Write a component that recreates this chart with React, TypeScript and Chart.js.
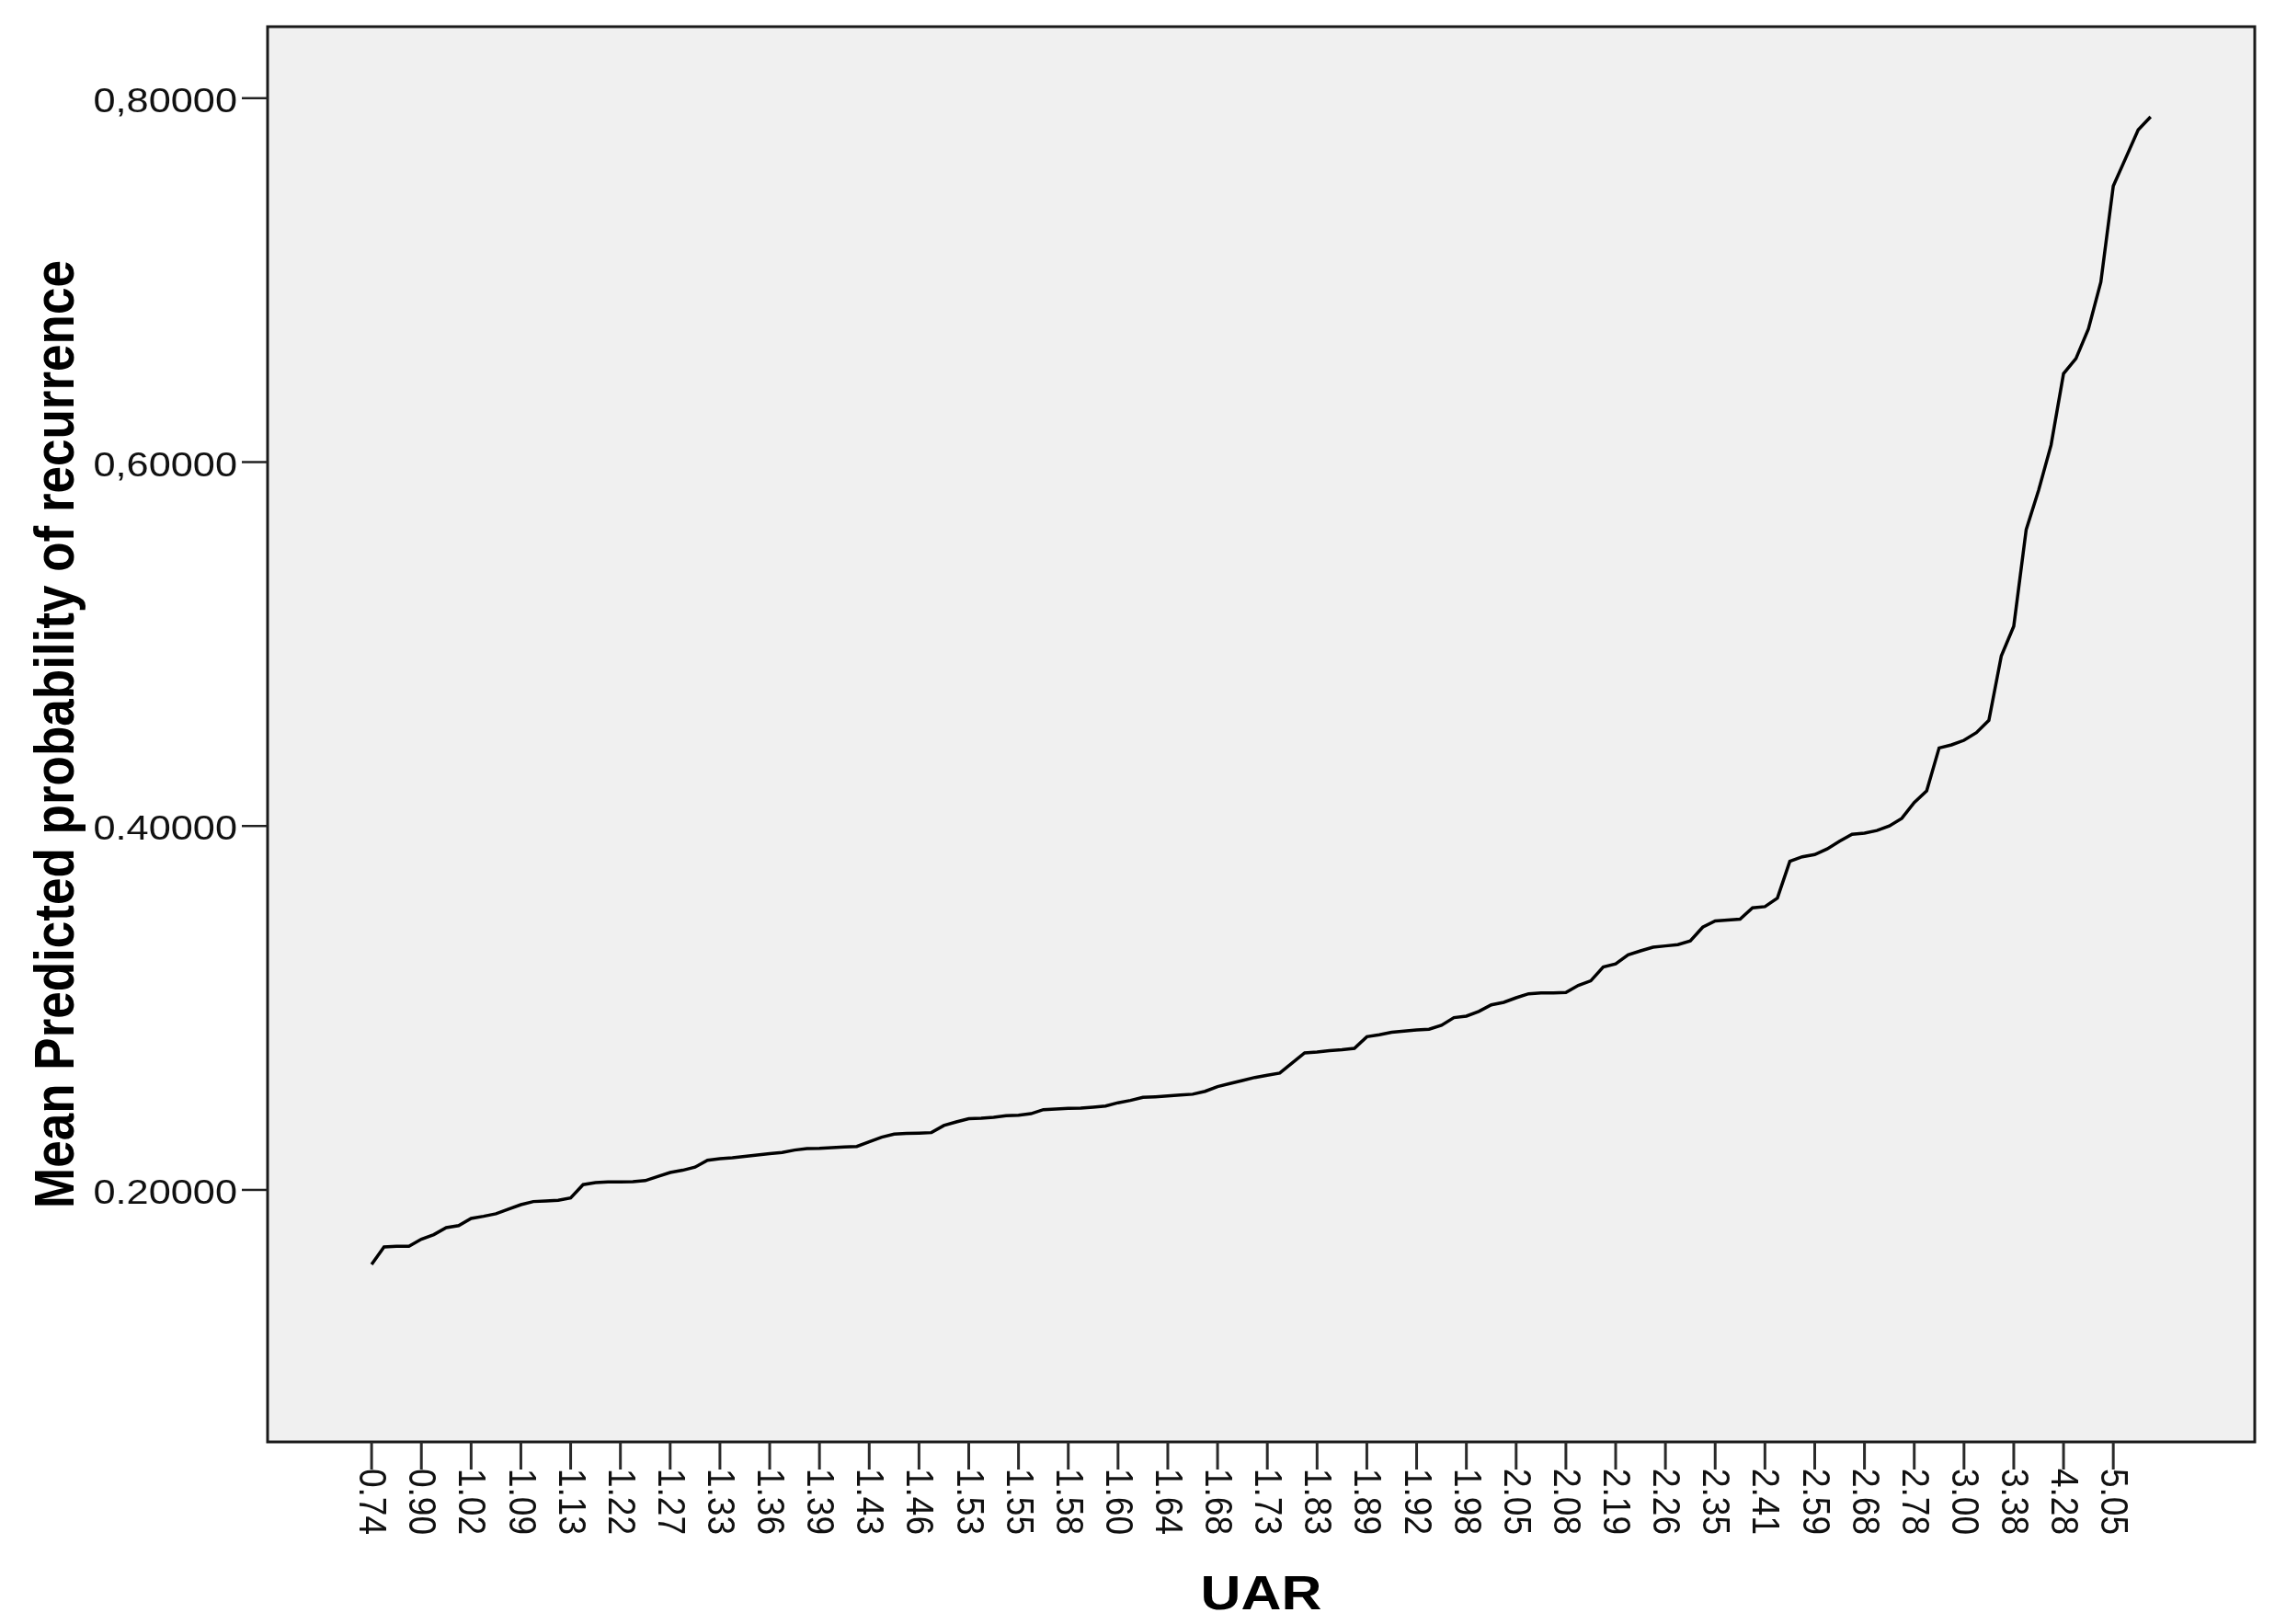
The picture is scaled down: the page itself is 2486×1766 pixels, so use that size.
import React, { useEffect, useRef } from "react";
import { Chart, registerables } from "chart.js";

Chart.register(...registerables);

// ---- Data ----
const uarTickLabels = [
  "0.74", "0.90", "1.02", "1.09", "1.13", "1.22", "1.27", "1.33", "1.36",
  "1.39", "1.43", "1.46", "1.53", "1.55", "1.58", "1.60", "1.64", "1.68",
  "1.73", "1.83", "1.89", "1.92", "1.98", "2.05", "2.08", "2.19", "2.26",
  "2.35", "2.41", "2.59", "2.68", "2.78", "3.00", "3.38", "4.28", "5.05",
];
const categoriesPerTick = 4;

const predictedProbability = [
  0.159, 0.1687, 0.169, 0.169, 0.1729, 0.1754, 0.1793, 0.1804, 0.1843, 0.1855,
  0.1869, 0.1894, 0.1919, 0.1936, 0.1939, 0.1943, 0.1956, 0.2029, 0.204, 0.2044,
  0.2044, 0.2045, 0.2051, 0.2074, 0.2096, 0.2108, 0.2125, 0.2163, 0.2172, 0.2177,
  0.2184, 0.2192, 0.2199, 0.2206, 0.2219, 0.2227, 0.2228, 0.2232, 0.2236, 0.2239,
  0.2264, 0.229, 0.2307, 0.231, 0.2312, 0.2315, 0.2354, 0.2374, 0.2391, 0.2394,
  0.2399, 0.2408, 0.2411, 0.2419, 0.2441, 0.2445, 0.2448, 0.245, 0.2455, 0.2461,
  0.2479, 0.2492, 0.2509, 0.2512, 0.2516, 0.2521, 0.2526, 0.2542, 0.2568, 0.2585,
  0.2601, 0.2618, 0.263, 0.2642, 0.2698, 0.2753, 0.2758, 0.2765, 0.277, 0.2778,
  0.2842, 0.2853, 0.2866, 0.2873, 0.2879, 0.2883, 0.2905, 0.2947, 0.2955, 0.2981,
  0.3017, 0.3031, 0.3056, 0.3078, 0.3082, 0.3082, 0.3085, 0.3124, 0.3149, 0.3225,
  0.3242, 0.3292, 0.3314, 0.3334, 0.3341, 0.3348, 0.3368, 0.3444, 0.3478, 0.3483,
  0.3488, 0.355, 0.3557, 0.3604, 0.3806, 0.3831, 0.3843, 0.3874, 0.3916, 0.3954,
  0.3961, 0.3975, 0.4, 0.4042, 0.4129, 0.4193, 0.4429, 0.4446, 0.4471, 0.4513,
  0.4581, 0.4935, 0.5098, 0.5629, 0.5846, 0.6094, 0.6486, 0.6569, 0.6732, 0.699,
  0.7517, 0.7671, 0.7826, 0.7898,
];

const yTickValues = [0.2, 0.4, 0.6, 0.8];
const yTickLabels = ["0.20000", "0.40000", "0,60000", "0,80000"];
const xAxisTitle = "UAR";
const yAxisTitle = "Mean Predicted probability of recurrence";

export default function App() {
  const ref = useRef<HTMLCanvasElement>(null);

  useEffect(() => {
    const canvas = ref.current;
    if (!canvas) return;
    const STRETCH = 1.17;
    const tickFont = '37px "Liberation Sans", Arial, sans-serif';
    const yTitleFont = 'bold 53px "Liberation Sans", Arial, sans-serif';
    const xTitleFont = 'bold 52px "Liberation Sans", Arial, sans-serif';

    const frame = {
      id: "spssFrame",
      beforeDatasetsDraw(chart: any) {
        const { ctx, chartArea: a } = chart;
        ctx.save();
        ctx.fillStyle = "#f0f0f0";
        ctx.fillRect(a.left, a.top, a.right - a.left, a.bottom - a.top);
        ctx.restore();
      },
      afterDraw(chart: any) {
        const { ctx, chartArea: a } = chart;
        const xs = chart.scales.x;
        const ys = chart.scales.y;
        ctx.save();
        // frame
        ctx.strokeStyle = "#1a1a1a";
        ctx.lineWidth = 3;
        ctx.strokeRect(a.left, a.top, a.right - a.left, a.bottom - a.top);

        // y ticks
        ctx.fillStyle = "#111";
        ctx.font = tickFont;
        yTickValues.forEach((v, k) => {
          const py = ys.getPixelForValue(v);
          ctx.strokeStyle = "#222";
          ctx.lineWidth = 2.5;
          ctx.beginPath();
          ctx.moveTo(a.left - 28, py);
          ctx.lineTo(a.left, py);
          ctx.stroke();
          ctx.save();
          ctx.translate(a.left - 33, py + 5);
          ctx.scale(STRETCH, 1);
          ctx.textAlign = "right";
          ctx.textBaseline = "middle";
          ctx.fillText(yTickLabels[k], 0, 0);
          ctx.restore();
        });

        // x ticks
        uarTickLabels.forEach((lab, k) => {
          const px = xs.getPixelForValue(k * categoriesPerTick);
          ctx.strokeStyle = "#2a2a2a";
          ctx.lineWidth = 3;
          ctx.beginPath();
          ctx.moveTo(px, a.bottom);
          ctx.lineTo(px, a.bottom + 30);
          ctx.stroke();
          ctx.save();
          ctx.translate(px - 1, a.bottom + 29);
          ctx.scale(STRETCH, 1);
          ctx.rotate(Math.PI / 2);
          ctx.textAlign = "left";
          ctx.textBaseline = "middle";
          ctx.fillText(lab, 0, 0);
          ctx.restore();
        });

        // titles
        ctx.fillStyle = "#000";
        ctx.save();
        ctx.font = yTitleFont;
        ctx.translate(80, (a.top + a.bottom) / 2);
        ctx.scale(STRETCH, 1);
        ctx.rotate(-Math.PI / 2);
        ctx.textAlign = "center";
        ctx.textBaseline = "alphabetic";
        ctx.fillText(yAxisTitle, 0, 0);
        ctx.restore();

        ctx.save();
        ctx.font = xTitleFont;
        ctx.translate((a.left + a.right) / 2, 1750);
        ctx.scale(STRETCH, 1);
        ctx.textAlign = "center";
        ctx.textBaseline = "alphabetic";
        ctx.fillText(xAxisTitle, 0, 0);
        ctx.restore();

        ctx.restore();
      },
    };

    const chart = new Chart(canvas, {
      type: "line",
      data: {
        datasets: [
          {
            label: yAxisTitle,
            data: predictedProbability.map((v, i) => ({ x: i, y: v })),
            borderColor: "#000",
            borderWidth: 3.5,
            pointRadius: 0,
            tension: 0,
            fill: false,
          },
        ],
      },
      options: {
        responsive: false,
        animation: false,
        layout: { padding: { left: 291, right: 34, top: 29, bottom: 198 } },
        plugins: { legend: { display: false }, tooltip: { enabled: false } },
        scales: {
          x: { type: "linear", min: -8.36, max: 151.37, display: false },
          y: { type: "linear", min: 0.0615, max: 0.8393, display: false },
        },
      },
      plugins: [frame],
    });
    return () => chart.destroy();
  }, []);

  return (
    <div
      style={{
        position: "absolute",
        left: 0,
        top: 0,
        width: 2486,
        height: 1766,
        background: "#fff",
      }}
    >
      <canvas ref={ref} width={2486} height={1766} style={{ display: "block" }} />
    </div>
  );
}
